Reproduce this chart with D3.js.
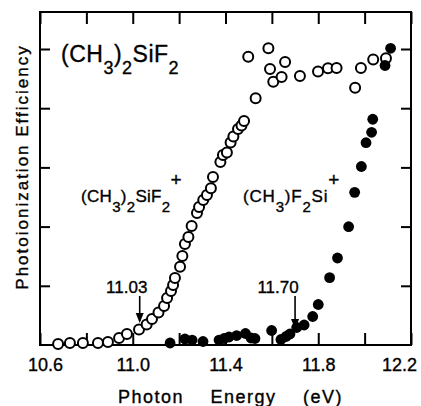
<!DOCTYPE html>
<html>
<head>
<meta charset="utf-8">
<script src="https://cdn.jsdelivr.net/npm/d3@7"></script>
<style>
    body { margin: 0; background: #fff; }
    svg { display: block; font-family: "Liberation Sans", Arial, sans-serif; }
    svg text { stroke: #000; stroke-width: 0.35px; }
    .axis path { display: none; }
    .axis line { stroke: #000; stroke-width: 2; }
    .axis text { fill: #000; font-size: 18px; font-family: "Liberation Sans", Arial, sans-serif; }
</style>
</head>
<body>
<div id="chart"></div>
<script>
(function () {
    'use strict';

    // photon energy (eV) for the parent ion (CH3)2SiF2+  -- open circles
    var parentEnergy = [10.678, 10.729, 10.785, 10.850, 10.893, 10.941, 10.975, 11.027, 11.060, 11.083,
        11.111, 11.135, 11.148, 11.165, 11.174, 11.182, 11.204, 11.214, 11.225, 11.240,
        11.254, 11.277, 11.286, 11.304, 11.320, 11.337, 11.346, 11.378, 11.389, 11.406,
        11.422, 11.434, 11.454, 11.469, 11.480, 11.530, 11.498, 11.585, 11.592, 11.606,
        11.642, 11.657, 11.721, 11.799, 11.842, 11.879, 11.959, 11.984, 12.037, 12.092];
    var parentEff = [0.017, 0.034, 0.034, 0.034, 0.051, 0.118, 0.186, 0.262, 0.346, 0.439,
        0.549, 0.659, 0.794, 0.912, 1.014, 1.132, 1.323, 1.503, 1.706, 1.824,
        2.010, 2.230, 2.331, 2.449, 2.534, 2.647, 2.838, 3.091, 3.209, 3.252,
        3.421, 3.522, 3.649, 3.708, 3.784, 4.167, 4.870, 5.012, 4.662, 4.448,
        4.527, 4.780, 4.544, 4.620, 4.674, 4.679, 4.345, 4.679, 4.821, 4.843];

    // fragment ion (CH3)F2Si+  -- filled circles
    var fragEnergy = [11.161, 11.225, 11.256, 11.303, 11.372, 11.394, 11.415, 11.448, 11.486, 11.510,
        11.527, 11.599, 11.639, 11.661, 11.678, 11.707, 11.739, 11.776, 11.800, 11.849,
        11.883, 11.931, 11.957, 11.986, 12.006, 12.030, 12.035, 12.088, 12.112];
    var fragEff = [0.034, 0.101, 0.084, 0.059, 0.084, 0.110, 0.135, 0.160, 0.194, 0.118,
        0.110, 0.245, 0.093, 0.144, 0.186, 0.296, 0.338, 0.481, 0.684, 1.137,
        1.470, 1.998, 2.579, 3.015, 3.417, 3.593, 3.813, 4.721, 5.012];

    var xTicks = [10.6, 10.8, 11.0, 11.2, 11.4, 11.6, 11.8, 12.0, 12.2];
    var xTickLabels = ['10.6', '', '11.0', '', '11.4', '', '11.8', '', '12.2'];
    var yTicks = [1, 2, 3, 4, 5];

    // onset thresholds marked with arrows
    var onsetEnergy = [11.03, 11.70];
    var onsetLabel = ['11.03', '11.70'];
    var onsetEff = [0.27, 0.27];

    var width = 421;
    var height = 406;
    var margin = { top: 12, right: 10, bottom: 61, left: 40 };

    var x = d3.scaleLinear().domain([10.6, 12.2]).range([margin.left, width - margin.right]);
    var y = d3.scaleLinear().domain([0, 5.625]).range([height - margin.bottom, margin.top]);

    var svg = d3.select('#chart').append('svg')
        .attr('width', width)
        .attr('height', height);

    svg.append('rect')
        .attr('width', width)
        .attr('height', height)
        .attr('fill', '#fff');

    // ticks all point inward
    svg.append('g')
        .attr('class', 'axis')
        .attr('transform', 'translate(0,' + y(0) + ')')
        .call(d3.axisBottom(x)
            .tickValues(xTicks)
            .tickSizeInner(-12)
            .tickSizeOuter(0)
            .tickPadding(13)
            .tickFormat(function (d, i) { return xTickLabels[i]; }))
        .selectAll('text')
        .attr('dx', function (d, i) {
            if (i === 0) { return 5; }
            if (i === xTicks.length - 1) { return -12; }
            return 0;
        });

    svg.append('g')
        .attr('class', 'axis')
        .attr('transform', 'translate(0,' + y(5.625) + ')')
        .call(d3.axisTop(x).tickValues(xTicks).tickSizeInner(-12).tickSizeOuter(0).tickFormat(''));

    svg.append('g')
        .attr('class', 'axis')
        .attr('transform', 'translate(' + x(10.6) + ',0)')
        .call(d3.axisLeft(y).tickValues(yTicks).tickSizeInner(-10).tickSizeOuter(0).tickFormat(''));

    svg.append('g')
        .attr('class', 'axis')
        .attr('transform', 'translate(' + x(12.2) + ',0)')
        .call(d3.axisRight(y).tickValues(yTicks).tickSizeInner(-10).tickSizeOuter(0).tickFormat(''));

    svg.append('rect')
        .attr('x', x(10.6))
        .attr('y', y(5.625))
        .attr('width', x(12.2) - x(10.6))
        .attr('height', y(0) - y(5.625))
        .attr('fill', 'none')
        .attr('stroke', '#000')
        .attr('stroke-width', 2);

    svg.append('g')
        .selectAll('circle')
        .data(d3.range(parentEnergy.length))
        .enter()
        .append('circle')
        .attr('cx', function (i) { return x(parentEnergy[i]); })
        .attr('cy', function (i) { return y(parentEff[i]); })
        .attr('r', 5)
        .attr('fill', '#fff')
        .attr('stroke', '#000')
        .attr('stroke-width', 2);

    svg.append('g')
        .selectAll('circle')
        .data(d3.range(fragEnergy.length))
        .enter()
        .append('circle')
        .attr('cx', function (i) { return x(fragEnergy[i]); })
        .attr('cy', function (i) { return y(fragEff[i]); })
        .attr('r', 5.4)
        .attr('fill', '#000');

    // formula labels: [text, size, dy]
    function formula(px, py, parts, spacing) {
        var t = svg.append('text')
            .attr('x', px)
            .attr('y', py)
            .attr('fill', '#000')
            .style('letter-spacing', (spacing || 0) + 'px');
        parts.forEach(function (p) {
            t.append('tspan')
                .attr('dy', p[2])
                .style('font-size', p[1] + 'px')
                .text(p[0]);
        });
    }

    formula(61, 62, [['(CH', 23, 0], ['3', 18, 12], [')', 23, -12], ['2', 18, 12],
        ['SiF', 23, -12], ['2', 18, 12]], 0.5);

    formula(81, 202, [['(CH', 17, 0], ['3', 15, 10], [')', 17, -10], ['2', 15, 10],
        ['SiF', 17, -10], ['2', 15, 10], ['+', 19, -26]], 0.3);

    formula(243, 202, [['(CH', 17, 0], ['3', 15, 10], [')F', 17, -10], ['2', 15, 10],
        ['Si', 17, -10], ['+', 19, -16]], 0.8);

    // onset arrows
    var onset = svg.append('g')
        .selectAll('g')
        .data(d3.range(onsetEnergy.length))
        .enter()
        .append('g');

    onset.append('text')
        .attr('x', function (i) { return x(onsetEnergy[i]) - (i === 0 ? 13 : 17); })
        .attr('y', function (i) { return y(onsetEff[i]) - 36; })
        .attr('text-anchor', 'middle')
        .style('font-size', '17px')
        .text(function (i) { return onsetLabel[i]; });

    onset.append('line')
        .attr('x1', function (i) { return x(onsetEnergy[i]); })
        .attr('x2', function (i) { return x(onsetEnergy[i]); })
        .attr('y1', function (i) { return y(onsetEff[i]) - 33; })
        .attr('y2', function (i) { return y(onsetEff[i]) - 8 + i * 6; })
        .attr('stroke', '#000')
        .attr('stroke-width', 1.6);

    onset.append('path')
        .attr('d', function (i) {
            var ax = x(onsetEnergy[i]);
            var ay = y(onsetEff[i]) - 6 + i * 6;
            return 'M' + (ax - 4) + ',' + (ay - 10) + 'L' + (ax + 4) + ',' + (ay - 10) + 'L' + ax + ',' + ay + 'Z';
        })
        .attr('fill', '#000');

    svg.append('text')
        .attr('x', 118)
        .attr('y', 403)
        .attr('fill', '#000')
        .style('font-size', '18px')
        .style('letter-spacing', '1.5px')
        .style('word-spacing', '20px')
        .text('Photon Energy (eV)');

    svg.append('text')
        .attr('transform', 'translate(28,167) rotate(-90)')
        .attr('text-anchor', 'middle')
        .attr('fill', '#000')
        .style('font-size', '17px')
        .style('letter-spacing', '2px')
        .text('Photoionization Efficiency');
})();
</script>
</body>
</html>
